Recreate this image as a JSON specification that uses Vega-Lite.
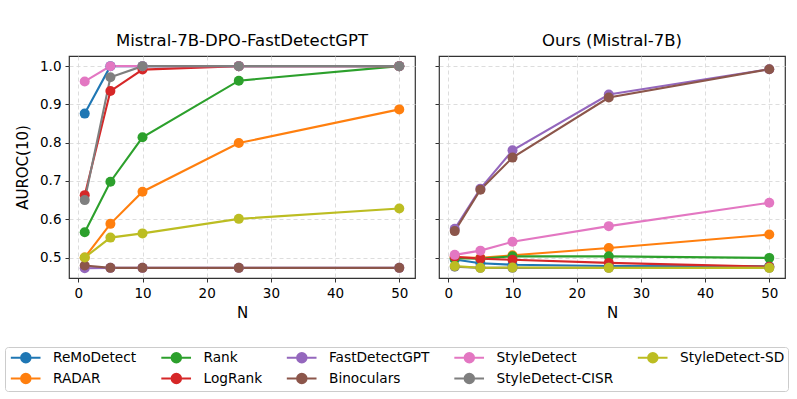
{
  "$schema": "https://vega.github.io/schema/vega-lite/v6.json",
  "padding": {"left": 4, "top": 31, "right": 5, "bottom": 5},
  "background": "white",
  "data": {"values": [
    {"panel": "A", "method": "ReMoDetect", "N": 1, "auroc": 0.876},
    {"panel": "A", "method": "ReMoDetect", "N": 5, "auroc": 1.0},
    {"panel": "A", "method": "ReMoDetect", "N": 10, "auroc": 1.0},
    {"panel": "A", "method": "ReMoDetect", "N": 25, "auroc": 1.0},
    {"panel": "A", "method": "ReMoDetect", "N": 50, "auroc": 1.0},
    {"panel": "A", "method": "RADAR", "N": 1, "auroc": 0.5},
    {"panel": "A", "method": "RADAR", "N": 5, "auroc": 0.588},
    {"panel": "A", "method": "RADAR", "N": 10, "auroc": 0.672},
    {"panel": "A", "method": "RADAR", "N": 25, "auroc": 0.799},
    {"panel": "A", "method": "RADAR", "N": 50, "auroc": 0.887},
    {"panel": "A", "method": "Rank", "N": 1, "auroc": 0.566},
    {"panel": "A", "method": "Rank", "N": 5, "auroc": 0.698},
    {"panel": "A", "method": "Rank", "N": 10, "auroc": 0.814},
    {"panel": "A", "method": "Rank", "N": 25, "auroc": 0.962},
    {"panel": "A", "method": "Rank", "N": 50, "auroc": 1.0},
    {"panel": "A", "method": "LogRank", "N": 1, "auroc": 0.663},
    {"panel": "A", "method": "LogRank", "N": 5, "auroc": 0.935},
    {"panel": "A", "method": "LogRank", "N": 10, "auroc": 0.991},
    {"panel": "A", "method": "LogRank", "N": 25, "auroc": 1.0},
    {"panel": "A", "method": "LogRank", "N": 50, "auroc": 1.0},
    {"panel": "A", "method": "FastDetectGPT", "N": 1, "auroc": 0.472},
    {"panel": "A", "method": "FastDetectGPT", "N": 5, "auroc": 0.473},
    {"panel": "A", "method": "FastDetectGPT", "N": 10, "auroc": 0.473},
    {"panel": "A", "method": "FastDetectGPT", "N": 25, "auroc": 0.473},
    {"panel": "A", "method": "FastDetectGPT", "N": 50, "auroc": 0.473},
    {"panel": "A", "method": "Binoculars", "N": 1, "auroc": 0.479},
    {"panel": "A", "method": "Binoculars", "N": 5, "auroc": 0.473},
    {"panel": "A", "method": "Binoculars", "N": 10, "auroc": 0.473},
    {"panel": "A", "method": "Binoculars", "N": 25, "auroc": 0.473},
    {"panel": "A", "method": "Binoculars", "N": 50, "auroc": 0.473},
    {"panel": "A", "method": "StyleDetect", "N": 1, "auroc": 0.96},
    {"panel": "A", "method": "StyleDetect", "N": 5, "auroc": 1.0},
    {"panel": "A", "method": "StyleDetect", "N": 10, "auroc": 1.0},
    {"panel": "A", "method": "StyleDetect", "N": 25, "auroc": 1.0},
    {"panel": "A", "method": "StyleDetect", "N": 50, "auroc": 1.0},
    {"panel": "A", "method": "StyleDetect-CISR", "N": 1, "auroc": 0.65},
    {"panel": "A", "method": "StyleDetect-CISR", "N": 5, "auroc": 0.971},
    {"panel": "A", "method": "StyleDetect-CISR", "N": 10, "auroc": 1.0},
    {"panel": "A", "method": "StyleDetect-CISR", "N": 25, "auroc": 1.0},
    {"panel": "A", "method": "StyleDetect-CISR", "N": 50, "auroc": 1.0},
    {"panel": "A", "method": "StyleDetect-SD", "N": 1, "auroc": 0.5},
    {"panel": "A", "method": "StyleDetect-SD", "N": 5, "auroc": 0.552},
    {"panel": "A", "method": "StyleDetect-SD", "N": 10, "auroc": 0.563},
    {"panel": "A", "method": "StyleDetect-SD", "N": 25, "auroc": 0.601},
    {"panel": "A", "method": "StyleDetect-SD", "N": 50, "auroc": 0.628},
    {"panel": "B", "method": "ReMoDetect", "N": 1, "auroc": 0.495},
    {"panel": "B", "method": "ReMoDetect", "N": 5, "auroc": 0.485},
    {"panel": "B", "method": "ReMoDetect", "N": 10, "auroc": 0.481},
    {"panel": "B", "method": "ReMoDetect", "N": 25, "auroc": 0.478},
    {"panel": "B", "method": "ReMoDetect", "N": 50, "auroc": 0.477},
    {"panel": "B", "method": "RADAR", "N": 1, "auroc": 0.5},
    {"panel": "B", "method": "RADAR", "N": 5, "auroc": 0.499},
    {"panel": "B", "method": "RADAR", "N": 10, "auroc": 0.506},
    {"panel": "B", "method": "RADAR", "N": 25, "auroc": 0.525},
    {"panel": "B", "method": "RADAR", "N": 50, "auroc": 0.56},
    {"panel": "B", "method": "Rank", "N": 1, "auroc": 0.498},
    {"panel": "B", "method": "Rank", "N": 5, "auroc": 0.497},
    {"panel": "B", "method": "Rank", "N": 10, "auroc": 0.503},
    {"panel": "B", "method": "Rank", "N": 25, "auroc": 0.503},
    {"panel": "B", "method": "Rank", "N": 50, "auroc": 0.499},
    {"panel": "B", "method": "LogRank", "N": 1, "auroc": 0.502},
    {"panel": "B", "method": "LogRank", "N": 5, "auroc": 0.497},
    {"panel": "B", "method": "LogRank", "N": 10, "auroc": 0.494},
    {"panel": "B", "method": "LogRank", "N": 25, "auroc": 0.486},
    {"panel": "B", "method": "LogRank", "N": 50, "auroc": 0.476},
    {"panel": "B", "method": "FastDetectGPT", "N": 1, "auroc": 0.575},
    {"panel": "B", "method": "FastDetectGPT", "N": 5, "auroc": 0.68},
    {"panel": "B", "method": "FastDetectGPT", "N": 10, "auroc": 0.78},
    {"panel": "B", "method": "FastDetectGPT", "N": 25, "auroc": 0.926},
    {"panel": "B", "method": "FastDetectGPT", "N": 50, "auroc": 0.992},
    {"panel": "B", "method": "Binoculars", "N": 1, "auroc": 0.569},
    {"panel": "B", "method": "Binoculars", "N": 5, "auroc": 0.677},
    {"panel": "B", "method": "Binoculars", "N": 10, "auroc": 0.761},
    {"panel": "B", "method": "Binoculars", "N": 25, "auroc": 0.918},
    {"panel": "B", "method": "Binoculars", "N": 50, "auroc": 0.992},
    {"panel": "B", "method": "StyleDetect", "N": 1, "auroc": 0.507},
    {"panel": "B", "method": "StyleDetect", "N": 5, "auroc": 0.518},
    {"panel": "B", "method": "StyleDetect", "N": 10, "auroc": 0.541},
    {"panel": "B", "method": "StyleDetect", "N": 25, "auroc": 0.582},
    {"panel": "B", "method": "StyleDetect", "N": 50, "auroc": 0.643},
    {"panel": "B", "method": "StyleDetect-CISR", "N": 1, "auroc": 0.476},
    {"panel": "B", "method": "StyleDetect-CISR", "N": 5, "auroc": 0.473},
    {"panel": "B", "method": "StyleDetect-CISR", "N": 10, "auroc": 0.473},
    {"panel": "B", "method": "StyleDetect-CISR", "N": 25, "auroc": 0.473},
    {"panel": "B", "method": "StyleDetect-CISR", "N": 50, "auroc": 0.473},
    {"panel": "B", "method": "StyleDetect-SD", "N": 1, "auroc": 0.478},
    {"panel": "B", "method": "StyleDetect-SD", "N": 5, "auroc": 0.473},
    {"panel": "B", "method": "StyleDetect-SD", "N": 10, "auroc": 0.474},
    {"panel": "B", "method": "StyleDetect-SD", "N": 25, "auroc": 0.473},
    {"panel": "B", "method": "StyleDetect-SD", "N": 50, "auroc": 0.473}
  ]},
  "spacing": 17,
  "hconcat": [
    {
      "width": 346, "height": 222,
      "title": {"text": "Mistral-7B-DPO-FastDetectGPT"},
      "transform": [{"filter": "datum.panel === 'A'"}],
      "mark": {"type": "line", "strokeWidth": 2.1, "point": {"filled": true, "size": 100, "opacity": 1}},
      "encoding": {
        "x": {"field": "N", "type": "quantitative", "scale": {"domain": [-1.45, 52.45], "nice": false, "zero": false},
              "axis": {"values": [0, 10, 20, 30, 40, 50], "title": "N"}},
        "y": {"field": "auroc", "type": "quantitative", "scale": {"domain": [0.4465, 1.0265], "nice": false, "zero": false},
              "axis": {"values": [0.5, 0.6, 0.7, 0.8, 0.9, 1.0], "format": ".1f", "title": "AUROC(10)"}},
        "color": {"field": "method", "type": "nominal",
                  "scale": {"domain": ["ReMoDetect", "RADAR", "Rank", "LogRank", "FastDetectGPT", "Binoculars", "StyleDetect", "StyleDetect-CISR", "StyleDetect-SD"],
                            "range": ["#1f77b4", "#ff7f0e", "#2ca02c", "#d62728", "#9467bd", "#8c564b", "#e377c2", "#7f7f7f", "#bcbd22"]},
                  "legend": {"orient": "none", "legendX": -64, "legendY": 291}}
      }
    },
    {
      "width": 346, "height": 222,
      "title": {"text": "Ours (Mistral-7B)"},
      "transform": [{"filter": "datum.panel === 'B'"}],
      "mark": {"type": "line", "strokeWidth": 2.1, "point": {"filled": true, "size": 100, "opacity": 1}},
      "encoding": {
        "x": {"field": "N", "type": "quantitative", "scale": {"domain": [-1.45, 52.45], "nice": false, "zero": false},
              "axis": {"values": [0, 10, 20, 30, 40, 50], "title": "N"}},
        "y": {"field": "auroc", "type": "quantitative", "scale": {"domain": [0.4465, 1.0265], "nice": false, "zero": false},
              "axis": {"values": [0.5, 0.6, 0.7, 0.8, 0.9, 1.0], "labels": false, "title": null}},
        "color": {"field": "method", "type": "nominal"}
      }
    }
  ],
  "resolve": {"scale": {"color": "shared"}},
  "config": {
    "font": "DejaVu Sans",
    "view": {"stroke": "#333333", "strokeWidth": 1.2},
    "title": {"fontSize": 16.5, "fontWeight": "normal", "color": "#000000", "offset": 7},
    "axis": {
      "domain": false,
      "grid": true, "gridColor": "#d9d9d9", "gridDash": [4, 3], "gridWidth": 0.9,
      "tickColor": "#333333", "tickSize": 4, "tickWidth": 1,
      "labelFontSize": 13.5, "labelColor": "#000000", "labelPadding": 4,
      "titleFontSize": 15, "titleFontWeight": "normal", "titleColor": "#000000"
    },
    "axisY": {"titlePadding": 9},
    "axisX": {"titlePadding": 6},
    "legend": {
      "title": null,
      "columns": 5,
      "labelFontSize": 13.7,
      "labelColor": "#000000",
      "labelOffset": 30,
      "columnPadding": 19.5,
      "rowPadding": 2,
      "symbolSize": 144,
      "symbolType": "M-0.78,0H4.17M2.5,0A0.78,0.78,0,1,1,0.94,0A0.78,0.78,0,1,1,2.5,0",
      "symbolStrokeWidth": 2.1,
      "strokeColor": "#cccccc",
      "fillColor": "white",
      "cornerRadius": 3,
      "padding": 3
    }
  }
}
